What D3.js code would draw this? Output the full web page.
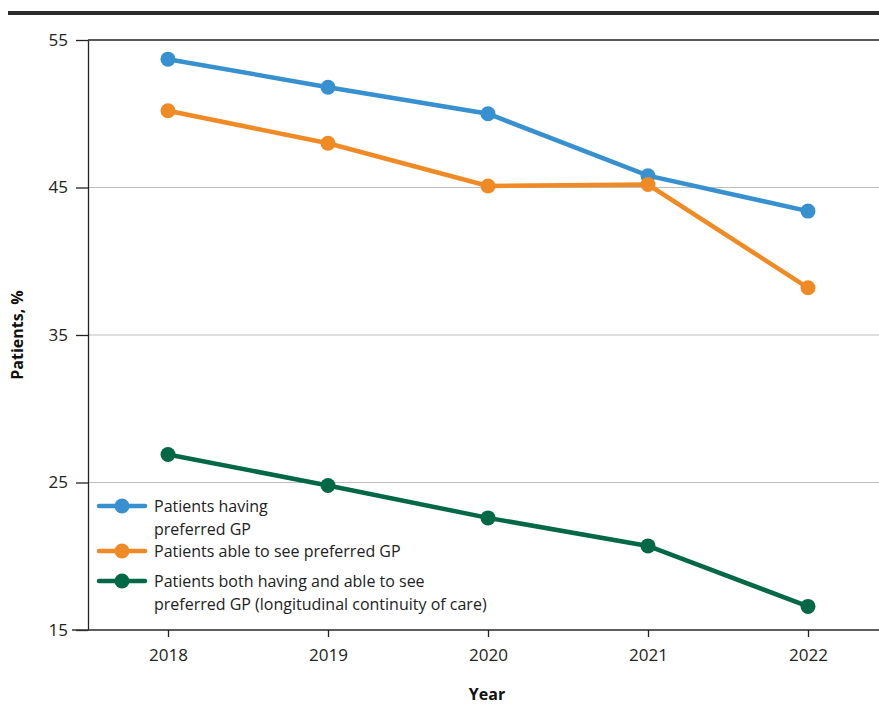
<!DOCTYPE html>
<html>
<head>
<meta charset="utf-8">
<script src="https://cdn.jsdelivr.net/npm/d3@7"></script>
<style>
  body { margin: 0; background: #fff; }
  svg { display: block; font-family: "Open Sans", "Noto Sans", sans-serif; }
</style>
</head>
<body>
<svg id="chart" width="879" height="706"></svg>
<script>
const years = ["2018", "2019", "2020", "2021", "2022"];
const havingGP = [53.7, 51.8, 50.0, 45.8, 43.4];
const ableToSee = [50.2, 48.0, 45.1, 45.2, 38.2];
const bothHavingAndAble = [26.9, 24.8, 22.6, 20.7, 16.6];
const yTicks = [15, 25, 35, 45, 55];

const series = [
    { name: ["Patients having", "preferred GP"], values: havingGP, color: "#3790d0" },
    { name: ["Patients able to see preferred GP"], values: ableToSee, color: "#ef8a25" },
    { name: ["Patients both having and able to see", "preferred GP (longitudinal continuity of care)"], values: bothHavingAndAble, color: "#036846" }
];

const svg = d3.select("#chart");
const plotLeft = 88, plotRight = 888, plotTop = 40, plotBottom = 630;

const x = d3.scalePoint().domain(years).range([plotLeft, plotRight]).padding(0.5);
const y = d3.scaleLinear().domain([15, 55]).range([plotBottom, plotTop]);

// top rule
svg.append("rect")
    .attr("x", 8).attr("y", 11).attr("width", 879).attr("height", 4)
    .attr("fill", "#2b2b2b");

// gridlines
svg.append("g")
    .selectAll("line")
    .data(yTicks)
    .join("line")
    .attr("x1", plotLeft).attr("x2", 879)
    .attr("y1", d => y(d)).attr("y2", d => y(d))
    .attr("stroke", d => d === 55 ? "#222" : "#bdbdbd")
    .attr("stroke-width", d => d === 55 ? 1.5 : 1.2);

// y axis
svg.append("g")
    .attr("transform", `translate(${plotLeft},0)`)
    .call(d3.axisLeft(y).tickValues(yTicks).tickSize(12).tickPadding(8).tickSizeOuter(0))
    .call(g => g.select(".domain").attr("stroke", "#222").attr("stroke-width", 1.3))
    .call(g => g.selectAll("line").attr("stroke", "#222").attr("stroke-width", 1.3))
    .call(g => g.selectAll("text").attr("fill", "#222").style("font-size", "17px")
        .style("font-family", "'Open Sans', sans-serif"));

// x axis
svg.append("line")
    .attr("x1", 72).attr("x2", 879)
    .attr("y1", plotBottom).attr("y2", plotBottom)
    .attr("stroke", "#333").attr("stroke-width", 1.3);

svg.append("g")
    .attr("transform", `translate(0,${plotBottom})`)
    .call(d3.axisBottom(x).tickSize(7).tickPadding(12).tickSizeOuter(0))
    .call(g => g.select(".domain").remove())
    .call(g => g.selectAll("line").attr("stroke", "#222").attr("stroke-width", 1.3))
    .call(g => g.selectAll("text").attr("fill", "#222").style("font-size", "17px")
        .style("font-family", "'Open Sans', sans-serif"));

// axis titles
svg.append("text")
    .attr("x", 487).attr("y", 700)
    .attr("text-anchor", "middle")
    .style("font-size", "16px").style("font-weight", "bold")
    .attr("fill", "#111")
    .text("Year");

svg.append("text")
    .attr("transform", "translate(23,335) rotate(-90)")
    .attr("text-anchor", "middle")
    .style("font-size", "16px").style("font-weight", "bold")
    .attr("fill", "#111")
    .text("Patients, %");

// lines and points
const line = d3.line()
    .x((d, i) => x(years[i]))
    .y(d => y(d));

series.forEach(s => {
    svg.append("path")
        .datum(s.values)
        .attr("fill", "none")
        .attr("stroke", s.color)
        .attr("stroke-width", 4.5)
        .attr("d", line);

    svg.append("g")
        .selectAll("circle")
        .data(s.values)
        .join("circle")
        .attr("cx", (d, i) => x(years[i]))
        .attr("cy", d => y(d))
        .attr("r", 7.5)
        .attr("fill", s.color);
});

// legend
const legendRows = [506, 551, 581];
const legend = svg.append("g");
series.forEach((s, i) => {
    const ly = legendRows[i];
    legend.append("line")
        .attr("x1", 99).attr("x2", 145)
        .attr("y1", ly).attr("y2", ly)
        .attr("stroke", s.color).attr("stroke-width", 4.5)
        .attr("stroke-linecap", "round");
    legend.append("circle")
        .attr("cx", 122).attr("cy", ly).attr("r", 7.5)
        .attr("fill", s.color);
    const t = legend.append("text")
        .attr("x", 154).attr("y", ly + 6)
        .attr("fill", "#222")
        .style("font-size", "16px");
    s.name.forEach((ln, j) => {
        t.append("tspan").attr("x", 154).attr("dy", j === 0 ? 0 : 23).text(ln);
    });
});
</script>
</body>
</html>
